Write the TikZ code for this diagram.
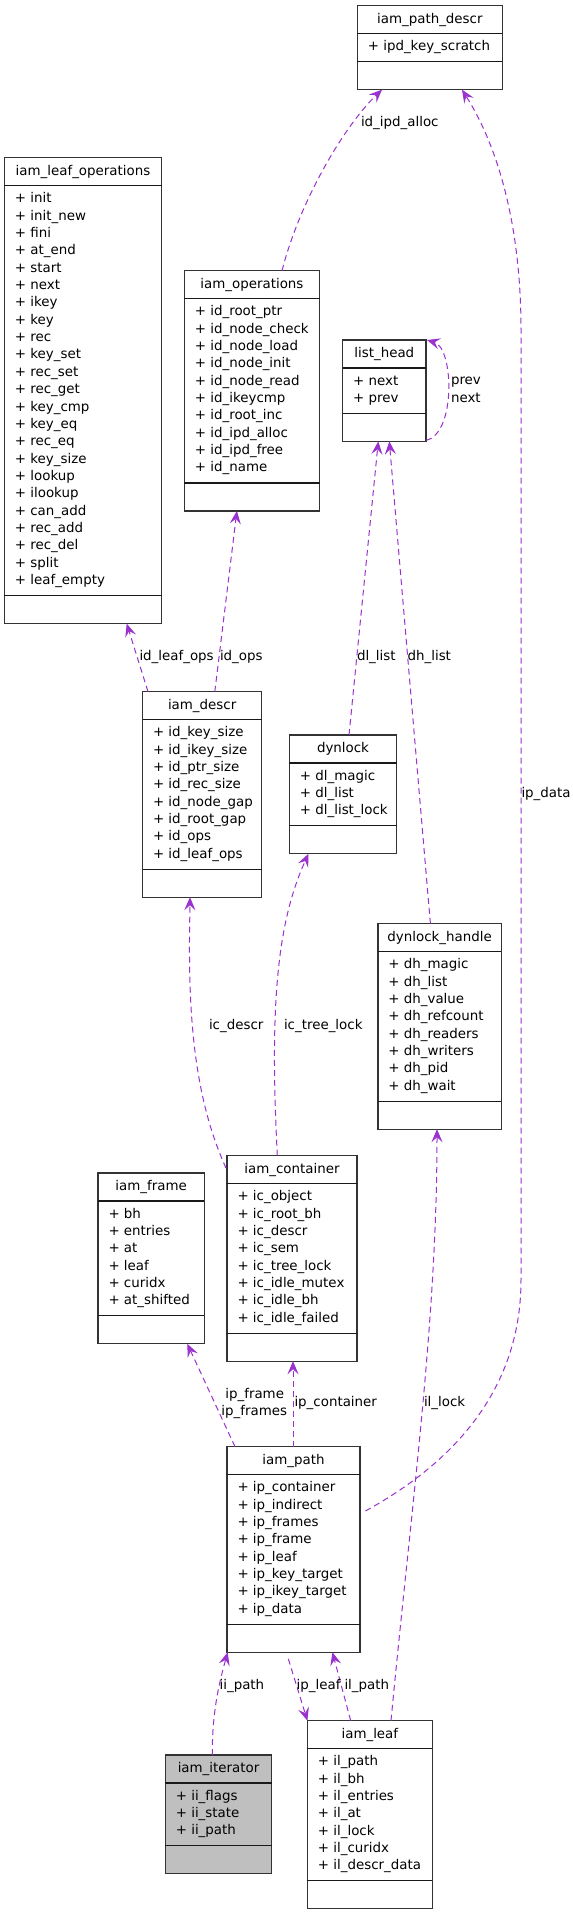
\documentclass[tikz,border=0pt]{standalone}
\usepackage{fontspec}
\setmainfont{DejaVu Sans}
\usetikzlibrary{arrows.meta}
\definecolor{edgec}{HTML}{9A32CD}
\definecolor{boxgray}{HTML}{BFBFBF}
\newcommand\umlclass[8][white]{%
  \pgfmathsetmacro\ucH{66.6+17.36*#6}%
  \pgfmathsetmacro\ucD{#4+38.6+17.36*#6}%
  \node[cls, fill=#1, minimum width=#5pt, minimum height=\ucH pt, anchor=north west] (#2) at (#3,#4) {};
  \node[txt, anchor=base] (#2-title) at (#3+#5/2, #4+17.5) {#7};
  \draw[divline] (#3,#4+28) -- (#3+#5,#4+28);
  \draw[divline] (#3,\ucD) -- (#3+#5,\ucD);
  \foreach \ucItem [count=\ucK from 0] in {#8} {
    \node[txt, anchor=base west] (#2-\ucK) at (#3+10.5, #4+45+17.36*\ucK) {+ \ucItem};
  }%
}
\begin{document}
\begin{tikzpicture}[x=1pt,y=-1pt,
  cls/.style={draw=black!80, line width=1.2pt, inner sep=0pt, outer sep=0pt},
  divline/.style={draw=black!90, line width=1.2pt},
  txt/.style={inner sep=0pt, outer sep=0pt, font=\fontsize{13.4}{16}\selectfont},
  rel/.style={draw=edgec, line width=1pt, dash pattern=on 6pt off 4pt, -{Stealth[length=13pt,width=11pt,inset=5pt]}},
  lbl/.style={txt, anchor=base west},
  lblc/.style={txt, anchor=base},
]
\useasboundingbox[fill=white] (0,0) rectangle (573,1915);

\umlclass{ipd}{357.3}{5.7}{145.1}{1}{iam\_path\_descr}{ipd\_key\_scratch}
\umlclass{lo}{4.4}{157.7}{157.2}{23}{iam\_leaf\_operations}{init, init\_new, fini, at\_end, start, next, ikey, key, rec, key\_set, rec\_set, rec\_get, key\_cmp, key\_eq, rec\_eq, key\_size, lookup, ilookup, can\_add, rec\_add, rec\_del, split, leaf\_empty}
\umlclass{ops}{184.4}{270.7}{135.1}{10}{iam\_operations}{id\_root\_ptr, id\_node\_check, id\_node\_load, id\_node\_init, id\_node\_read, id\_ikeycmp, id\_root\_inc, id\_ipd\_alloc, id\_ipd\_free, id\_name}
\umlclass{lh}{342.6}{340}{83.4}{2}{list\_head}{next, prev}
\umlclass{desc}{142.5}{691.7}{119.3}{8}{iam\_descr}{id\_key\_size, id\_ikey\_size, id\_ptr\_size, id\_rec\_size, id\_node\_gap, id\_root\_gap, id\_ops, id\_leaf\_ops}
\umlclass{dyn}{289.4}{735}{107.2}{3}{dynlock}{dl\_magic, dl\_list, dl\_list\_lock}
\umlclass{dh}{377.9}{923.7}{123.4}{8}{dynlock\_handle}{dh\_magic, dh\_list, dh\_value, dh\_refcount, dh\_readers, dh\_writers, dh\_pid, dh\_wait}
\umlclass{frame}{98}{1173}{106.2}{6}{iam\_frame}{bh, entries, at, leaf, curidx, at\_shifted}
\umlclass{cont}{227}{1155.7}{130}{8}{iam\_container}{ic\_object, ic\_root\_bh, ic\_descr, ic\_sem, ic\_tree\_lock, ic\_idle\_mutex, ic\_idle\_bh, ic\_idle\_failed}
\umlclass{path}{227}{1446.7}{132.9}{8}{iam\_path}{ip\_container, ip\_indirect, ip\_frames, ip\_frame, ip\_leaf, ip\_key\_target, ip\_ikey\_target, ip\_data}
\umlclass[boxgray]{it}{165.3}{1755}{106.5}{3}{iam\_iterator}{ii\_flags, ii\_state, ii\_path}
\umlclass{leaf}{307.4}{1720.7}{124.9}{7}{iam\_leaf}{il\_path, il\_bh, il\_entries, il\_at, il\_lock, il\_curidx, il\_descr\_data}

% connectors
\draw[rel] ([xshift=97.6pt]ops.north west) .. controls (300,200) and (345,125) .. ([xshift=24.7pt]ipd.south west);
\draw[rel] ([xshift=5.5pt,yshift=-64.3pt]path.north east) .. controls (440,1470) and (521,1400) .. (521,1280) -- (521,330) .. controls (521,230) and (500,150) .. ([xshift=104.7pt]ipd.south west);
\draw[rel] ([yshift=1pt]lh.south east) .. controls (456,434) and (454,348) .. ([xshift=1pt]lh.north east);
\draw[rel] ([xshift=59.6pt]dyn.north west) -- ([xshift=35.7pt]lh.south west);
\draw[rel] ([xshift=52.5pt]dh.north west) -- ([xshift=46.7pt]lh.south west);
\draw[rel] ([xshift=5.5pt]desc.north west) -- ([xshift=122.3pt]lo.south west);
\draw[rel] ([xshift=72.3pt]desc.north west) -- ([xshift=52.5pt]ops.south west);
\draw[rel] ([xshift=-1pt,yshift=-12.3pt]cont.north west) .. controls (195,1100) and (189,1020) .. (189.5,940) -- ([xshift=47.5pt]desc.south west);
\draw[rel] ([xshift=50.3pt]cont.north west) .. controls (270,1010) and (276,925) .. ([xshift=19.1pt]dyn.south west);
\draw[rel] ([xshift=8pt]path.north west) -- ([xshift=89.3pt]frame.south west);
\draw[rel] ([xshift=66pt]path.north west) -- ([xshift=66pt]cont.south west);
\draw[rel] ([xshift=83.6pt]leaf.north west) .. controls (412,1500) and (437,1320) .. ([xshift=59.1pt]dh.south west);
\draw[rel] ([xshift=47pt]it.north west) .. controls (212,1710) and (220,1680) .. ([xshift=0.7pt]path.south west);
\draw[rel] ([xshift=61.3pt,yshift=-6.6pt]path.south west) -- (leaf.north west);
\draw[rel] ([xshift=43.3pt]leaf.north west) -- ([xshift=105.4pt]path.south west);

% labels
\node[lbl] (l-ipdalloc) at (361,126) {id\_ipd\_alloc};
\node[lbl] (l-ipdata) at (521.5,797) {ip\_data};
\node[lbl] (l-prev) at (451,384) {prev};
\node[lbl] (l-next) at (451,402) {next};
\node[lbl] (l-dllist) at (357,660) {dl\_list};
\node[lbl] (l-dhlist) at (407.6,660) {dh\_list};
\node[lbl] (l-idleafops) at (139.5,660) {id\_leaf\_ops};
\node[lbl] (l-idops) at (220,660) {id\_ops};
\node[lbl] (l-icdescr) at (209,1029) {ic\_descr};
\node[lbl] (l-ictreelock) at (284,1029) {ic\_tree\_lock};
\node[lblc] (l-ipframe) at (254.7,1398) {ip\_frame};
\node[lblc] (l-ipframes) at (254.2,1415.5) {ip\_frames};
\node[lbl] (l-ipcontainer) at (294.5,1406) {ip\_container};
\node[lbl] (l-illock) at (424,1406) {il\_lock};
\node[lbl] (l-iipath) at (219.6,1689) {ii\_path};
\node[lbl] (l-ipleaf) at (296.7,1689) {ip\_leaf};
\node[lbl] (l-ilpath) at (344.5,1689) {il\_path};
\end{tikzpicture}
\end{document}
